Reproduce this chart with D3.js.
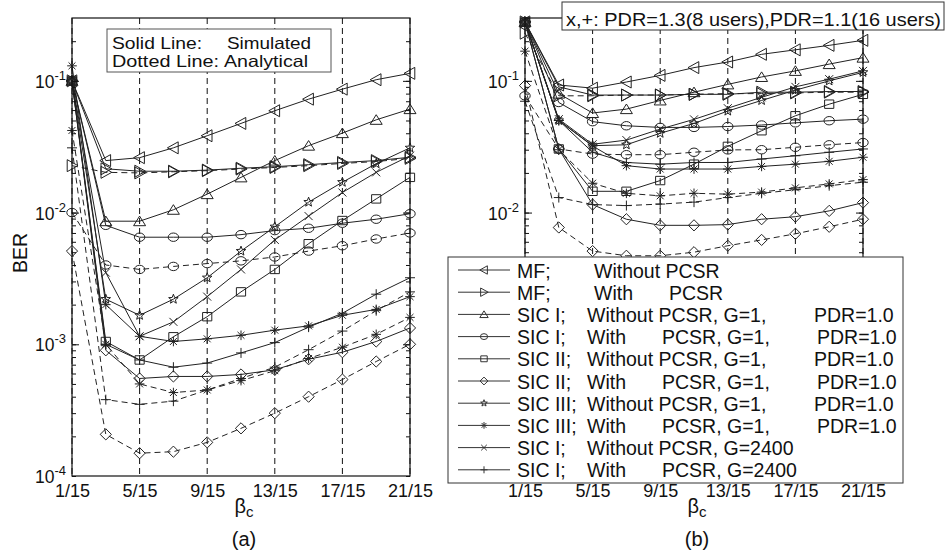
<!DOCTYPE html>
<html>
<head>
<meta charset="utf-8">
<script src="https://cdn.jsdelivr.net/npm/d3@7"></script>
<style>
  body { margin: 0; background: #fff; }
  text { font-family: Arial, "Liberation Sans", sans-serif; fill: #111; }
</style>
</head>
<body>
<div id="chart"></div>
<script>
// beta_c numerators (x = n/15)
const betaNum = [1, 3, 5, 7, 9, 11, 13, 15, 17, 19, 21];
const tickNum = [1, 5, 9, 13, 17, 21];
const tickLabels = ["1/15", "5/15", "9/15", "13/15", "17/15", "21/15"];
const decades = [1e-4, 1e-3, 1e-2, 1e-1];
const decadeExp = ["-4", "-3", "-2", "-1"];

// ---- panel (a) ----
const mfWithoutA   = [0.1, 0.0248, 0.0261, 0.031, 0.0383, 0.0475, 0.0593, 0.0726, 0.0865, 0.102, 0.114];
const mfWithA      = [0.1, 0.0215, 0.0206, 0.0206, 0.021, 0.0217, 0.0223, 0.0231, 0.024, 0.0248, 0.0263];
const mfWithAnA    = [0.0227, 0.0202, 0.02, 0.0204, 0.0208, 0.0214, 0.022, 0.0227, 0.0236, 0.0244, 0.0258];
const sic1WithoutA = [0.1, 0.0086, 0.0086, 0.0105, 0.0138, 0.0185, 0.0248, 0.0322, 0.0401, 0.0506, 0.061];
const sic1WithA    = [0.1, 0.008, 0.0065, 0.0065, 0.0065, 0.0068, 0.0073, 0.0076, 0.0083, 0.0089, 0.0098];
const sic1WithAnA  = [0.01, 0.004, 0.0037, 0.0039, 0.0041, 0.0043, 0.0046, 0.0051, 0.0056, 0.0063, 0.007];
const sic2WithoutA = [0.1, 0.00105, 0.00076, 0.00114, 0.00162, 0.0025, 0.0037, 0.0058, 0.0087, 0.0127, 0.0185];
const sic2WithA    = [0.1, 0.0009, 0.00055, 0.00057, 0.00057, 0.00059, 0.00064, 0.00077, 0.00087, 0.00105, 0.00133];
const sic2WithAnA  = [0.0051, 0.000207, 0.000149, 0.000153, 0.00018, 0.00023, 0.0003, 0.0004, 0.00054, 0.00074, 0.001];
const sic3WithoutA = [0.1, 0.0022, 0.00166, 0.0022, 0.0032, 0.0051, 0.0078, 0.012, 0.017, 0.0235, 0.031];
const sic3WithA    = [0.13, 0.002, 0.00115, 0.00105, 0.0011, 0.00117, 0.00128, 0.00138, 0.00166, 0.00184, 0.0023];
const sic3WithAnA  = [0.042, 0.001, 0.0005, 0.00043, 0.00045, 0.00053, 0.00063, 0.00078, 0.00095, 0.00119, 0.0016];
const gWithoutA    = [0.1, 0.0035, 0.00115, 0.00148, 0.0023, 0.0037, 0.0062, 0.0094, 0.0142, 0.0202, 0.027];
const gWithA       = [0.1, 0.001, 0.00076, 0.00067, 0.00072, 0.00086, 0.00103, 0.00135, 0.00172, 0.0024, 0.0032];
const gWithAnA     = [0.031, 0.00038, 0.00035, 0.00037, 0.00045, 0.00055, 0.00067, 0.00091, 0.00126, 0.0018, 0.0025];

// ---- panel (b) ----
const mfWithoutB   = [0.28, 0.093, 0.088, 0.098, 0.11, 0.126, 0.139, 0.159, 0.172, 0.186, 0.203];
const mfWithB      = [0.28, 0.09, 0.078, 0.078, 0.078, 0.079, 0.079, 0.082, 0.082, 0.083, 0.083];
const mfWithAnB    = [0.23, 0.077, 0.077, 0.078, 0.078, 0.079, 0.08, 0.08, 0.081, 0.082, 0.082];
const sic1WithoutB = [0.28, 0.08, 0.057, 0.061, 0.071, 0.082, 0.094, 0.107, 0.119, 0.134, 0.15];
const sic1WithB    = [0.28, 0.0685, 0.049, 0.0456, 0.0443, 0.0443, 0.045, 0.0462, 0.048, 0.0498, 0.0512];
const sic1WithAnB  = [0.077, 0.0304, 0.0278, 0.0275, 0.0275, 0.0287, 0.0299, 0.03, 0.0313, 0.0327, 0.034];
const sic2WithoutB = [0.28, 0.0304, 0.0145, 0.0145, 0.0175, 0.0233, 0.0318, 0.0418, 0.0543, 0.0665, 0.079];
const sic2WithB    = [0.28, 0.0304, 0.0115, 0.0089, 0.008, 0.008, 0.0081, 0.0089, 0.0093, 0.0103, 0.0119];
const sic2WithAnB  = [0.092, 0.0077, 0.0051, 0.0047, 0.0047, 0.005, 0.0056, 0.0062, 0.0069, 0.0078, 0.0089];
const sic3WithoutB = [0.28, 0.05, 0.0322, 0.0327, 0.04, 0.0475, 0.059, 0.071, 0.085, 0.1, 0.116];
const sic3WithB    = [0.28, 0.05, 0.032, 0.0227, 0.0214, 0.0214, 0.0214, 0.0224, 0.0233, 0.0245, 0.0263];
const sic3WithAnB  = [0.168, 0.03, 0.0167, 0.014, 0.0134, 0.014, 0.0138, 0.0143, 0.0154, 0.0165, 0.0178];
const gWithoutB    = [0.28, 0.0512, 0.033, 0.0355, 0.043, 0.051, 0.062, 0.075, 0.09, 0.103, 0.119];
const gWithB       = [0.28, 0.05, 0.0287, 0.024, 0.0233, 0.024, 0.024, 0.0255, 0.027, 0.0287, 0.0304];
const gWithAnB     = [0.07, 0.013, 0.0115, 0.0113, 0.0116, 0.012, 0.013, 0.014, 0.0149, 0.016, 0.017];

// marker codes in legend order
const markerTypes = ["tl", "tr", "tu", "o", "s", "d", "p", "*", "x", "+"];
const legendLabels = [
  "MF;\tWithout PCSR",
  "MF;\tWith\tPCSR",
  "SIC I;\tWithout PCSR, G=1,\tPDR=1.0",
  "SIC I;\tWith\tPCSR, G=1,\tPDR=1.0",
  "SIC II;\tWithout PCSR, G=1,\tPDR=1.0",
  "SIC II;\tWith\tPCSR, G=1,\tPDR=1.0",
  "SIC III;\tWithout PCSR, G=1,\tPDR=1.0",
  "SIC III;\tWith\tPCSR, G=1,\tPDR=1.0",
  "SIC I;\tWithout PCSR, G=2400",
  "SIC I;\tWith\tPCSR, G=2400"
];
const noteLines = [["Solid Line:", "Simulated"], ["Dotted Line:", "Analytical"]];

const simA = [mfWithoutA, mfWithA, sic1WithoutA, sic1WithA, sic2WithoutA, sic2WithA, sic3WithoutA, sic3WithA, gWithoutA, gWithA];
const anaA = [[1, mfWithAnA], [3, sic1WithAnA], [5, sic2WithAnA], [7, sic3WithAnA], [9, gWithAnA]];
const simB = [mfWithoutB, mfWithB, sic1WithoutB, sic1WithB, sic2WithoutB, sic2WithB, sic3WithoutB, sic3WithB, gWithoutB, gWithB];
const anaB = [[1, mfWithAnB], [3, sic1WithAnB], [5, sic2WithAnB], [7, sic3WithAnB], [9, gWithAnB]];

const W = 946, H = 555;
const svg = d3.select("#chart").append("svg").attr("width", W).attr("height", H);

const yTop = 18, yBottom = 476;
const y = d3.scaleLog().domain([1e-4, 0.3]).range([yBottom, yTop]);

const minorTicks = [];
decades.forEach(d => { for (let k = 1; k <= 9; k++) if (d * k <= 0.3) minorTicks.push(d * k); });

function markerPath(type, cx, cy, s) {
  // s = scale, 1 for plot markers
  const r = 6 * s;
  switch (type) {
    case "tl": return `M${cx - r},${cy} L${cx + r * 0.8},${cy - r} L${cx + r * 0.8},${cy + r} Z`;
    case "tr": return `M${cx + r},${cy} L${cx - r * 0.8},${cy - r} L${cx - r * 0.8},${cy + r} Z`;
    case "tu": return `M${cx},${cy - r * 0.85} L${cx + r},${cy + r * 0.75} L${cx - r},${cy + r * 0.75} Z`;
    case "o": {
      const rx = 5.2 * s, ry = 4.2 * s;
      return `M${cx - rx},${cy} A${rx},${ry} 0 1,0 ${cx + rx},${cy} A${rx},${ry} 0 1,0 ${cx - rx},${cy} Z`;
    }
    case "s": { const a = 4.6 * s, b = 4.2 * s; return `M${cx - a},${cy - b} H${cx + a} V${cy + b} H${cx - a} Z`; }
    case "d": { const a = 5.6 * s; return `M${cx},${cy - a} L${cx + a},${cy} L${cx},${cy + a} L${cx - a},${cy} Z`; }
    case "p": {
      const ro = 5 * s, ri = 2.1 * s;
      let p = "";
      for (let i = 0; i < 10; i++) {
        const rr = i % 2 ? ri : ro, ang = -Math.PI / 2 + i * Math.PI / 5;
        p += (i ? "L" : "M") + (cx + rr * Math.cos(ang)) + "," + (cy + rr * Math.sin(ang));
      }
      return p + "Z";
    }
    case "*": {
      const a = 4.8 * s, b = a * 0.72;
      return `M${cx - a},${cy} H${cx + a} M${cx},${cy - a} V${cy + a} M${cx - b},${cy - b} L${cx + b},${cy + b} M${cx - b},${cy + b} L${cx + b},${cy - b}`;
    }
    case "x": { const a = 4 * s; return `M${cx - a},${cy - a} L${cx + a},${cy + a} M${cx - a},${cy + a} L${cx + a},${cy - a}`; }
    case "+": { const a = 5 * s; return `M${cx - a},${cy} H${cx + a} M${cx},${cy - a} V${cy + a}`; }
  }
}

function drawPanel(x0, x1, sims, anas, label, shownDecades) {
  const x = d3.scaleLinear().domain([1, 21]).range([x0, x1]);
  const g = svg.append("g");

  // vertical dashed grid
  g.selectAll(".grid").data(tickNum).enter().append("line")
    .attr("x1", d => x(d)).attr("x2", d => x(d))
    .attr("y1", yTop).attr("y2", yBottom)
    .attr("stroke", "#111").attr("stroke-width", 1).attr("stroke-dasharray", "6,4");

  const line = d3.line().x((d, i) => x(betaNum[i])).y(d => y(d));

  // analytical (dashed)
  anas.forEach(([mi, vals]) => {
    g.append("path").attr("d", line(vals)).attr("fill", "none")
      .attr("stroke", "#222").attr("stroke-width", 1).attr("stroke-dasharray", "6,4");
    g.append("path")
      .attr("d", vals.map((v, i) => markerPath(markerTypes[mi], x(betaNum[i]), y(v), 1)).join(" "))
      .attr("fill", "none").attr("stroke", "#222").attr("stroke-width", 1);
  });

  // simulated (solid)
  sims.forEach((vals, mi) => {
    g.append("path").attr("d", line(vals)).attr("fill", "none")
      .attr("stroke", "#222").attr("stroke-width", 1);
    g.append("path")
      .attr("d", vals.map((v, i) => markerPath(markerTypes[mi], x(betaNum[i]), y(v), 1)).join(" "))
      .attr("fill", "none").attr("stroke", "#222").attr("stroke-width", 1);
  });

  // frame
  g.append("rect").attr("x", x0).attr("y", yTop).attr("width", x1 - x0).attr("height", yBottom - yTop)
    .attr("fill", "none").attr("stroke", "#111").attr("stroke-width", 1.2);

  // y ticks, inward on both sides
  const clean = a => a.call(s => s.select(".domain").remove()).call(s => s.selectAll("line").attr("stroke", "#111"));
  g.append("g").attr("transform", `translate(${x0},0)`)
    .call(d3.axisLeft(y).tickValues(minorTicks).tickSize(-4).tickFormat("")).call(clean);
  g.append("g").attr("transform", `translate(${x0},0)`)
    .call(d3.axisLeft(y).tickValues(decades.slice(1)).tickSize(-7).tickFormat("")).call(clean);
  g.append("g").attr("transform", `translate(${x1},0)`)
    .call(d3.axisRight(y).tickValues(minorTicks).tickSize(-4).tickFormat("")).call(clean);
  g.append("g").attr("transform", `translate(${x1},0)`)
    .call(d3.axisRight(y).tickValues(decades.slice(1)).tickSize(-7).tickFormat("")).call(clean);

  // y labels 10^k
  decades.forEach((d, i) => {
    if (!shownDecades.includes(d)) return;
    const t = g.append("text").attr("x", x0 - 6).attr("y", y(d) + 7)
      .attr("text-anchor", "end").style("font-size", "17.5px");
    t.append("tspan").text("10");
    t.append("tspan").attr("dy", -8).style("font-size", "13px").text(decadeExp[i]);
  });

  // x axis labels
  const xa = g.append("g").attr("transform", `translate(0,${yBottom})`)
    .call(d3.axisBottom(x).tickValues(tickNum).tickSize(0).tickPadding(8)
      .tickFormat((d, i) => tickLabels[i]));
  xa.select(".domain").remove();
  xa.selectAll("text").style("font-size", "18px").style("font-family", "Arial, 'Liberation Sans', sans-serif").attr("fill", "#111");

  // beta_c label and panel label
  const cx = (x0 + x1) / 2 + 3;
  const bt = g.append("text").attr("x", cx).attr("y", 513).attr("text-anchor", "middle").style("font-size", "20px");
  bt.append("tspan").text("β");
  bt.append("tspan").attr("dy", 4).style("font-size", "15px").text("c");
  g.append("text").attr("x", cx).attr("y", 546).attr("text-anchor", "middle").style("font-size", "20px").text(label);
  return g;
}

drawPanel(72, 410, simA, anaA, "(a)", decades);
// 10^-3 and 10^-4 of panel (b) sit under the legend
drawPanel(525, 863, simB, anaB, "(b)", [1e-2, 1e-1]);

// BER label
svg.append("text").attr("transform", "translate(27,253) rotate(-90)").attr("text-anchor", "middle")
  .style("font-size", "19.5px").text("BER");

// Solid/Dotted box (a)
svg.append("rect").attr("x", 107).attr("y", 29).attr("width", 224).attr("height", 43)
  .attr("fill", "#fff").attr("stroke", "#555").attr("stroke-width", 1);
const noteX = [[112, 227], [112, 224]], noteW = [[90, 84], [107, 84]];
noteLines.forEach((r, i) => {
  r.forEach((s, k) => {
    svg.append("text").attr("x", noteX[i][k]).attr("y", 48.5 + i * 18.5)
      .style("font-size", "16.5px")
      .attr("textLength", noteW[i][k]).attr("lengthAdjust", "spacingAndGlyphs").text(s);
  });
});

// PDR note box (b)
svg.append("rect").attr("x", 562).attr("y", 2).attr("width", 382).attr("height", 28)
  .attr("fill", "#fff").attr("stroke", "#333").attr("stroke-width", 1);
svg.append("text").attr("x", 566).attr("y", 26).style("font-size", "18.5px")
  .attr("textLength", 375).attr("lengthAdjust", "spacingAndGlyphs")
  .text("x,+: PDR=1.3(8 users),PDR=1.1(16 users)");

// legend (b)
const lg = svg.append("g");
lg.append("rect").attr("x", 448).attr("y", 257).attr("width", 455).attr("height", 226)
  .attr("fill", "#fff").attr("stroke", "#333").attr("stroke-width", 1);
legendLabels.forEach((lab, i) => {
  const yy = 270 + i * 22.2;
  lg.append("line").attr("x1", 458).attr("x2", 510).attr("y1", yy).attr("y2", yy)
    .attr("stroke", "#333").attr("stroke-width", 1);
  lg.append("path").attr("d", markerPath(markerTypes[i], 484, yy, 0.7))
    .attr("fill", "none").attr("stroke", "#333").attr("stroke-width", 1);
  const parts = lab.split("\t");
  const mf = i < 2 ? 7 : 0;
  const cols = [517, 587 + mf, 662 + mf, parts[1] === "With" ? 817 : 814];
  const idx = parts.length === 3 && parts[2].startsWith("PDR") ? [0, 1, 3] : [0, 1, 2, 3];
  parts.forEach((p, k) => {
    lg.append("text").attr("x", cols[idx[k]]).attr("y", yy + 7.5).style("font-size", "19.5px").text(p);
  });
});
</script>
</body>
</html>
